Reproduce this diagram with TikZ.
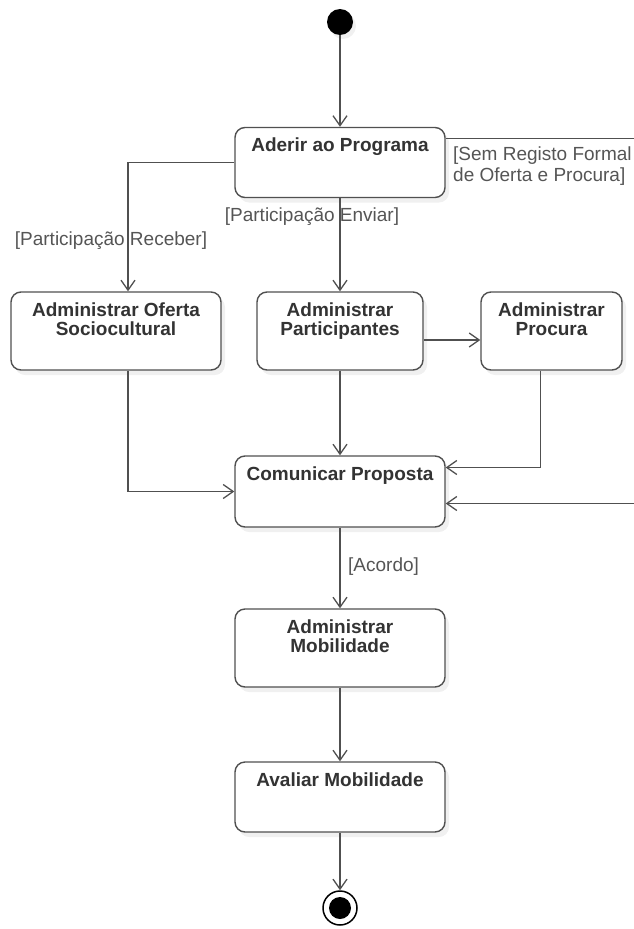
\documentclass[tikz,border=0pt]{standalone}
\usepackage{fontspec}
\setmainfont{Liberation Sans}
\usetikzlibrary{arrows.meta,shadows}
\definecolor{linegray}{HTML}{505050}
\definecolor{textgray}{HTML}{333333}
\definecolor{guardgray}{HTML}{555555}

\begin{document}
\begin{tikzpicture}[x=1pt,y=-1pt,
    act/.style={draw=linegray, line width=1.4pt, rounded corners=10pt, fill=white,
      minimum width=210pt, minimum height=70pt, inner sep=0pt,
      drop shadow={shadow xshift=4pt, shadow yshift=-5pt, opacity=0.12}},
    title/.style={anchor=north, yshift=-9pt, inner sep=2pt, align=center, text=textgray,
      font=\bfseries\fontsize{19}{19}\selectfont},
    guard/.style={text=guardgray, inner sep=0pt, align=left, font=\fontsize{19}{21}\selectfont},
    flow/.style={draw=linegray, line width=1.3pt, -{Straight Barb[length=10pt,width=14pt]}},
    initial/.style={circle, fill=black, minimum size=26pt, inner sep=0pt,
      drop shadow={shadow xshift=3pt, shadow yshift=-4pt, opacity=0.12}},
    final/.style={circle, draw=black, line width=1.5pt, fill=white, minimum size=34pt, inner sep=0pt,
      path picture={\fill[black] (path picture bounding box.center) circle (11pt);}}]
    \useasboundingbox (0,0) rectangle (634,929);
    \clip (0,0) rectangle (634,929);
    \node[initial] (start) at (340,22) {};
    \node[act, label={[title]north:Aderir ao Programa}] (aderir) at (340,162.5) {};
    \node[act, minimum height=78pt, label={[title]north:{Administrar Oferta\\Sociocultural}}] (oferta) at (116,331) {};
    \node[act, minimum width=166pt, minimum height=78pt, label={[title]north:{Administrar\\Participantes}}] (participantes) at (340,331) {};
    \node[act, minimum width=141pt, minimum height=78pt, label={[title]north:{Administrar\\Procura}}] (procura) at (551.5,331) {};
    \node[act, minimum height=71pt, label={[title]north:Comunicar Proposta}] (comunicar) at (340,491.5) {};
    \node[act, minimum height=78pt, label={[title]north:{Administrar\\Mobilidade}}] (mobilidade) at (340,648) {};
    \node[act, label={[title]north:Avaliar Mobilidade}] (avaliar) at (340,797) {};
    \node[final] (end) at (340,908) {};
    \draw[flow] (start) -- (aderir);
    \draw[flow] (aderir.west) -| ([xshift=12pt]oferta.north);
    \draw[flow] (aderir) -- (participantes);
    \draw[flow] ([yshift=24pt]aderir.east) -- ++(240,0) |- ([yshift=-12pt]comunicar.east);
    \draw[flow] ([yshift=-9pt]participantes.east) -- ([yshift=-9pt]procura.west);
    \draw[flow] ([xshift=12pt]oferta.south) |- (comunicar.west);
    \draw[flow] (participantes) -- (comunicar);
    \draw[flow] ([xshift=-11pt]procura.south) |- ([yshift=24pt]comunicar.east);
    \draw[flow] (comunicar) -- (mobilidade);
    \draw[flow] (mobilidade) -- (avaliar);
    \draw[flow] (avaliar) -- (end);
    \node[guard, anchor=west] (gsem) at (453,166) {[Sem Registo Formal\\de Oferta e Procura]};
    \node[guard] (greceber) at (111,241) {[Participação Receber]};
    \node[guard] (genviar) at (312,217) {[Participação Enviar]};
    \node[guard, anchor=west] (gacordo) at (348,567) {[Acordo]};
\end{tikzpicture}
\end{document}
